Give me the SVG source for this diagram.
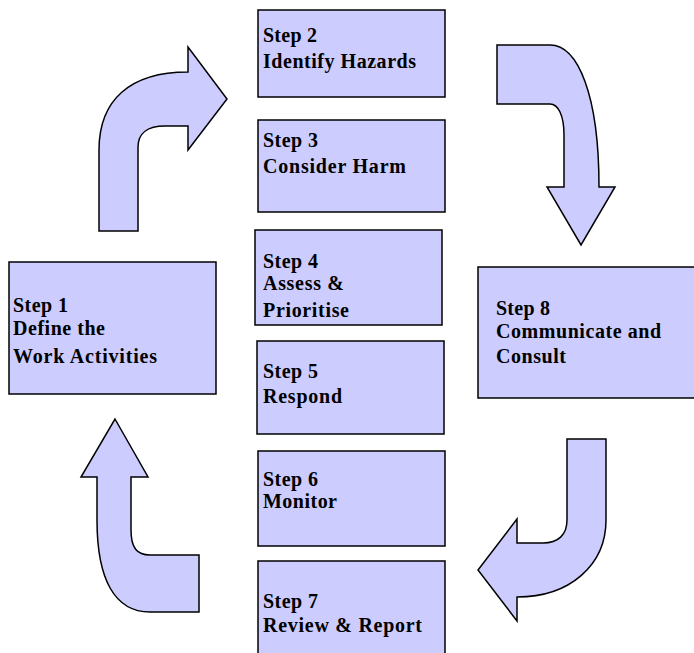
<svg xmlns="http://www.w3.org/2000/svg" width="694" height="653" viewBox="0 0 694 653">
<style>
.box{fill:#CCCCFF;stroke:#000;stroke-width:1.5}
.arr{fill:#CCCCFF;stroke:#000;stroke-width:1.5;stroke-linejoin:miter}
text{font-family:"Liberation Serif","Times New Roman",serif;font-weight:bold;font-size:20px;fill:#000}
</style>
<rect width="694" height="653" fill="#fff"/>
<g id="connectors">
<path class="arr" d="M99,231 L99,150 C99,100 130,72 188,72 L188,47 L227,99 L188,150 L188,126 L165,126 C148,126 138,133 138,147 L138,231 Z"/>
<path class="arr" d="M497,45 L550,45 C578,45 599,95 599,187 L615,187 L581,245 L547,187 L564,187 L564,135 C564,115 558,104 550,104 L497,104 Z"/>
<path class="arr" d="M567,439 L606,439 L606,520 C606,565 570,597 517,597 L517,621 L478,570 L517,519 L517,543 L543,543 C558,543 567,535 567,520 Z"/>
<path class="arr" d="M115,419 L148,477 L131,477 L131,530 C131,548 137,555 150,555 L199,555 L199,612 L150,612 C115,612 97,580 97,520 L97,477 L81,477 Z"/>
</g>
<g id="step1"><rect class="box" x="9" y="262" width="207" height="132"/>
<text x="13" y="312" textLength="55">Step 1</text>
<text x="13" y="335" textLength="92">Define the</text>
<text x="13" y="363" textLength="144">Work Activities</text></g>
<g id="step2"><rect class="box" x="258" y="10" width="187" height="87"/>
<text x="263" y="42" textLength="54">Step 2</text>
<text x="263" y="68" textLength="153">Identify Hazards</text></g>
<g id="step3"><rect class="box" x="258" y="120" width="187" height="92"/>
<text x="263" y="147" textLength="55">Step 3</text>
<text x="263" y="173" textLength="143">Consider Harm</text></g>
<g id="step4"><rect class="box" x="255" y="230" width="187" height="95"/>
<text x="263" y="268" textLength="55">Step 4</text>
<text x="263" y="290" textLength="81">Assess &amp;</text>
<text x="263" y="317" textLength="86">Prioritise</text></g>
<g id="step5"><rect class="box" x="257" y="341" width="187" height="93"/>
<text x="263" y="378" textLength="55">Step 5</text>
<text x="263" y="403" textLength="79">Respond</text></g>
<g id="step6"><rect class="box" x="258" y="451" width="187" height="95"/>
<text x="263" y="486" textLength="55">Step 6</text>
<text x="263" y="508" textLength="74">Monitor</text></g>
<g id="step7"><rect class="box" x="258" y="561" width="187" height="100"/>
<text x="263" y="608" textLength="55">Step 7</text>
<text x="263" y="632" textLength="159">Review &amp; Report</text></g>
<g id="step8"><rect class="box" x="478" y="267" width="224" height="131"/>
<text x="496" y="315" textLength="54">Step 8</text>
<text x="496" y="338" textLength="165">Communicate and</text>
<text x="496" y="363" textLength="70">Consult</text></g>
</svg>
